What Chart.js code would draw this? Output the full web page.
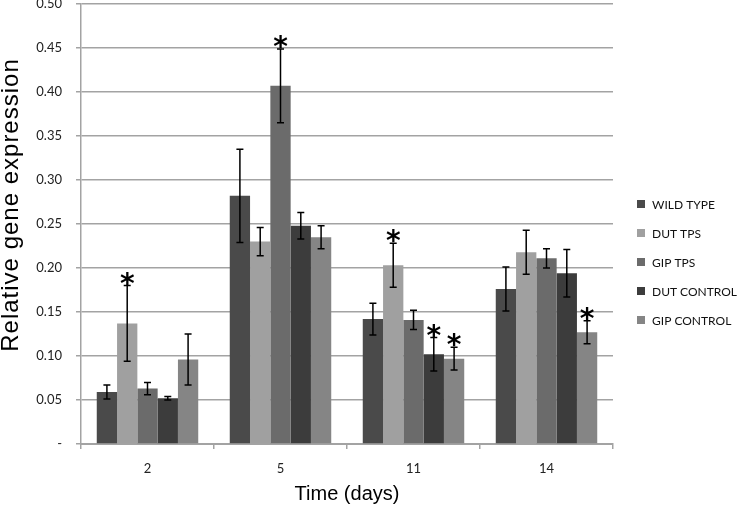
<!DOCTYPE html>
<html>
<head>
<meta charset="utf-8">
<script src="https://cdn.jsdelivr.net/npm/chart.js@4/dist/chart.umd.min.js"></script>
<style>
  html, body { margin: 0; padding: 0; background: #fff; }
  #wrap { width: 742px; height: 507px; }
</style>
</head>
<body>
<div id="wrap"><canvas id="geneChart" width="742" height="507"></canvas></div>
<script>
// Data
const days = ["2", "5", "11", "14"];
const seriesNames = ["WILD TYPE", "DUT TPS", "GIP TPS", "DUT CONTROL", "GIP CONTROL"];
const seriesColors = ["#4a4a4a", "#a0a0a0", "#6b6b6b", "#3c3c3c", "#858585"];

const wildType = [0.059, 0.282, 0.142, 0.176];
const dutTps = [0.137, 0.230, 0.203, 0.218];
const gipTps = [0.063, 0.407, 0.141, 0.211];
const dutControl = [0.052, 0.248, 0.102, 0.194];
const gipControl = [0.096, 0.235, 0.097, 0.127];

const wildTypeErr = [0.008, 0.053, 0.018, 0.025];
const dutTpsErr = [0.043, 0.016, 0.025, 0.025];
const gipTpsErr = [0.007, 0.042, 0.011, 0.011];
const dutControlErr = [0.002, 0.015, 0.019, 0.027];
const gipControlErr = [0.029, 0.013, 0.013, 0.013];

// significance markers (true = asterisk above the bar)
const wildTypeSig = [false, false, false, false];
const dutTpsSig = [true, false, true, false];
const gipTpsSig = [false, true, false, false];
const dutControlSig = [false, false, true, false];
const gipControlSig = [false, false, true, true];

const values = [wildType, dutTps, gipTps, dutControl, gipControl];
const errors = [wildTypeErr, dutTpsErr, gipTpsErr, dutControlErr, gipControlErr];
const sigs = [wildTypeSig, dutTpsSig, gipTpsSig, dutControlSig, gipControlSig];

const tickFont = "Lato";
const gridColor = "#a3a3a3";

// error bars + asterisks
const errorBarPlugin = {
  id: "errorBars",
  afterDatasetsDraw(chart) {
    const ctx = chart.ctx;
    const yScale = chart.scales.y;
    ctx.save();
    ctx.strokeStyle = "#000";
    ctx.lineWidth = 1.5;
    chart.data.datasets.forEach((ds, i) => {
      const meta = chart.getDatasetMeta(i);
      meta.data.forEach((bar, j) => {
        const v = values[i][j];
        const e = errors[i][j];
        const yTop = yScale.getPixelForValue(v + e);
        const yBot = yScale.getPixelForValue(v - e);
        const x = bar.x;
        ctx.beginPath();
        ctx.moveTo(x, yTop);
        ctx.lineTo(x, yBot);
        ctx.moveTo(x - 3.5, yTop);
        ctx.lineTo(x + 3.5, yTop);
        ctx.moveTo(x - 3.5, yBot);
        ctx.lineTo(x + 3.5, yBot);
        ctx.stroke();
        if (sigs[i][j]) {
          ctx.fillStyle = "#000";
          ctx.font = "bold 28px 'DejaVu Sans'";
          ctx.textAlign = "center";
          ctx.textBaseline = "alphabetic";
          ctx.fillText("*", x, yTop + 7);
        }
      });
    });
    ctx.restore();
  },
};

// legend on the right and the rotated y title
const sideLegendPlugin = {
  id: "sideLegend",
  afterDraw(chart) {
    const ctx = chart.ctx;
    ctx.save();
    ctx.font = "12px " + tickFont;
    ctx.textBaseline = "middle";
    ctx.textAlign = "left";
    seriesNames.forEach((name, i) => {
      const cy = 204 + i * 29;
      ctx.fillStyle = seriesColors[i];
      ctx.fillRect(637, cy - 4, 8, 8);
      ctx.fillStyle = "#111";
      ctx.fillText(name, 652, cy + 1);
    });
    ctx.restore();

    ctx.save();
    ctx.translate(17.5, 205);
    ctx.rotate(-Math.PI / 2);
    ctx.font = "24px 'Liberation Sans'";
    ctx.letterSpacing = "1px";
    ctx.fillStyle = "#000";
    ctx.textAlign = "center";
    ctx.textBaseline = "alphabetic";
    ctx.fillText("Relative gene expression", 0, 0);
    ctx.restore();
  },
};

const ctx = document.getElementById("geneChart").getContext("2d");
window.geneChart = new Chart(ctx, {
  type: "bar",
  data: {
    labels: days,
    datasets: seriesNames.map((name, i) => ({
      label: name,
      data: values[i],
      backgroundColor: seriesColors[i],
      borderWidth: 0,
      barPercentage: 1.0,
      categoryPercentage: 0.763,
    })),
  },
  options: {
    responsive: false,
    animation: false,
    devicePixelRatio: 1,
    layout: {
      padding: { left: 0, right: 129, top: 4, bottom: 0 },
    },
    plugins: {
      legend: { display: false },
      tooltip: { enabled: false },
    },
    scales: {
      x: {
        offset: true,
        grid: {
          display: true,
          offset: true,
          drawOnChartArea: false,
          drawTicks: true,
          tickLength: 5,
          color: gridColor,
          lineWidth: 1.5,
        },
        border: { color: gridColor, width: 2 },
        ticks: {
          font: { family: tickFont, size: 13 },
          color: "#222",
          padding: 12,
        },
        title: {
          display: true,
          text: "Time (days)",
          font: { family: "Liberation Sans", size: 20, lineHeight: 1.2 },
          color: "#000",
          padding: { top: 0, bottom: 1 },
        },
        afterFit(scale) {
          scale.height = 63;
          scale.paddingLeft = 0;
          scale.paddingRight = 0;
        },
      },
      y: {
        min: 0,
        max: 0.5,
        grid: {
          color: gridColor,
          lineWidth: 1.5,
          tickLength: 5,
        },
        border: { color: gridColor, width: 1.5 },
        ticks: {
          stepSize: 0.05,
          font: { family: tickFont, size: 13 },
          color: "#222",
          padding: 14,
          callback: (value) => (Math.abs(value) < 1e-9 ? "-" : value.toFixed(2)),
        },
        afterFit(scale) {
          scale.width = 81;
          scale.paddingTop = 0;
          scale.paddingBottom = 0;
        },
      },
    },
  },
  plugins: [errorBarPlugin, sideLegendPlugin],
});
</script>
</body>
</html>
